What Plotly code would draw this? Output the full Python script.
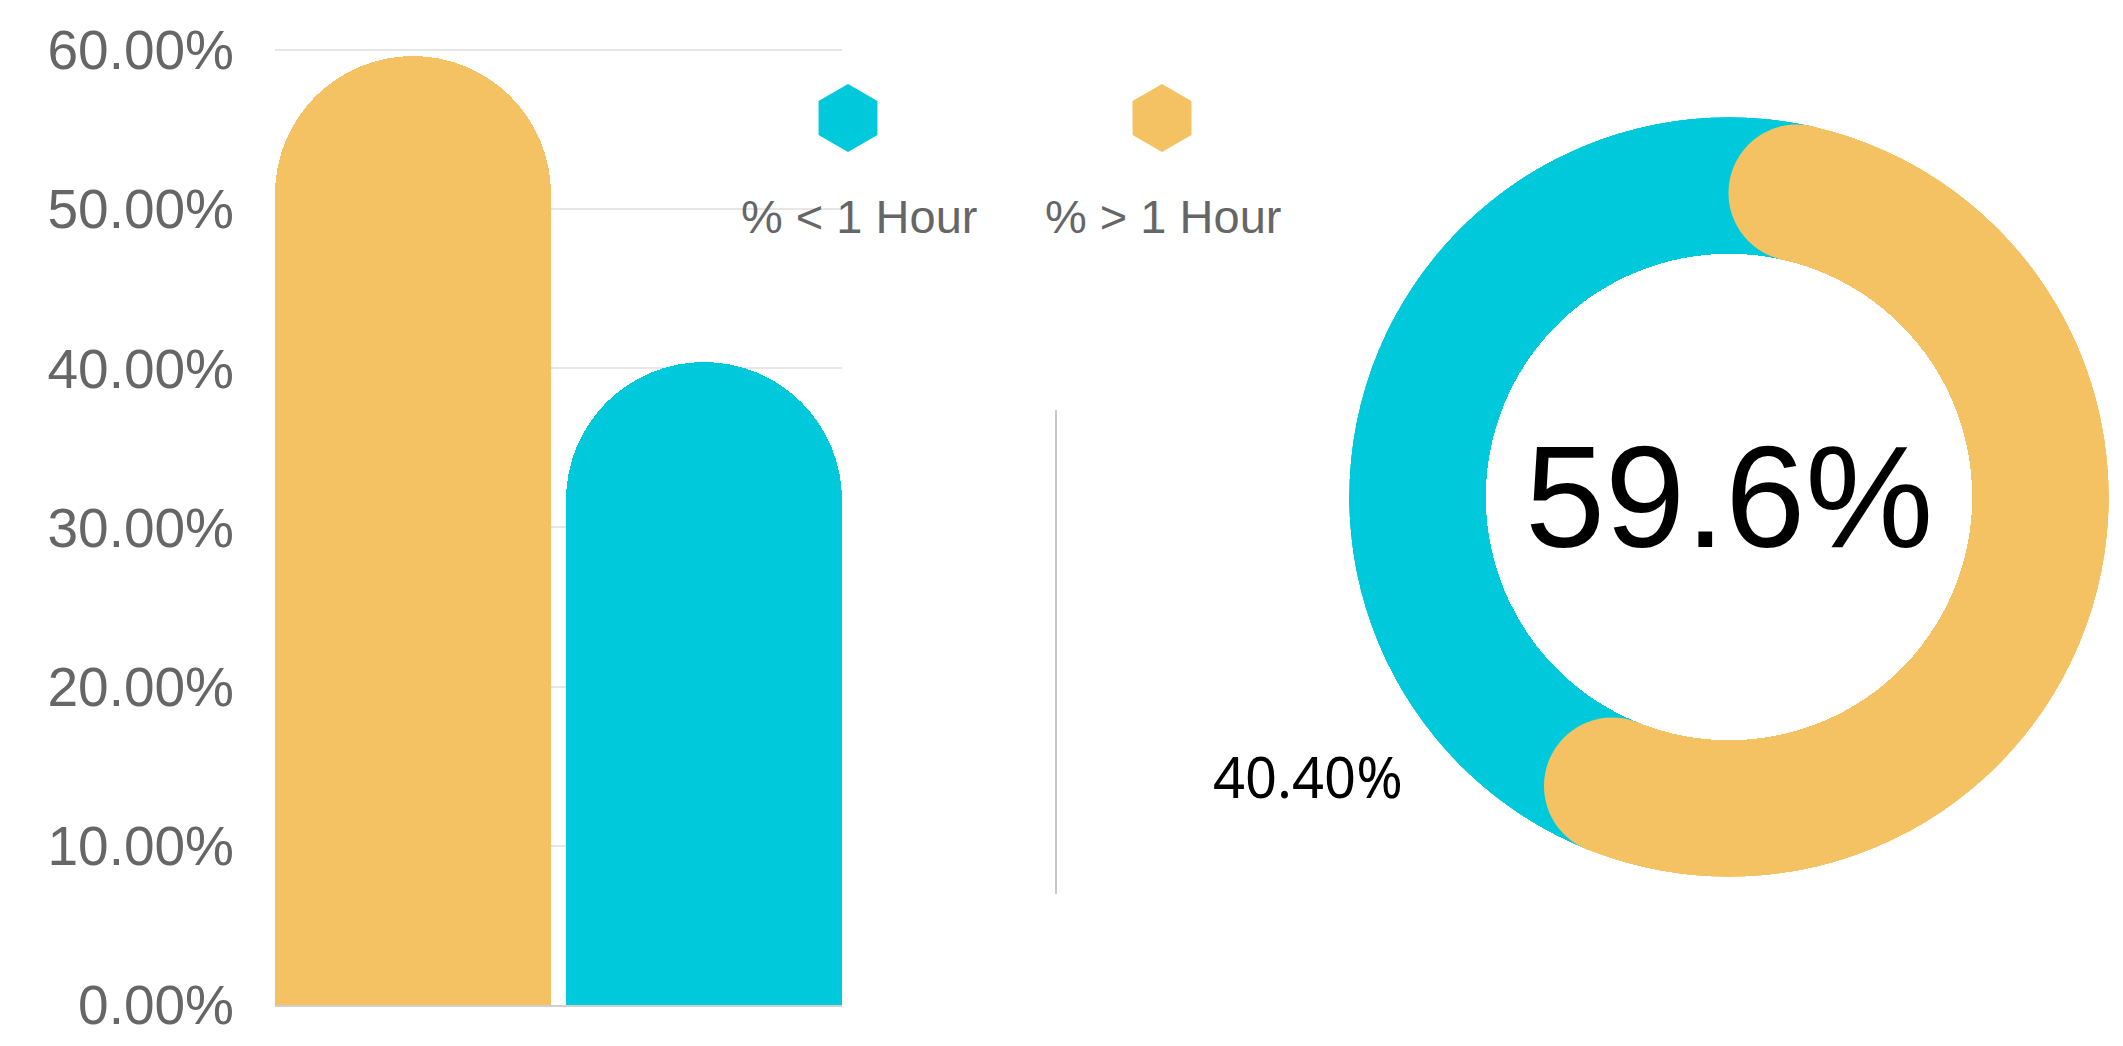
import plotly.graph_objects as go
import math

# ---- data ----
categories = ["% > 1 Hour", "% < 1 Hour"]
values = [0.596, 0.404]
colors = ["#F4C262", "#00C9DB"]
legend_labels = ["% < 1 Hour", "% > 1 Hour"]
legend_colors = ["#00C9DB", "#F4C262"]
y_ticks = [0, 0.1, 0.2, 0.3, 0.4, 0.5, 0.6]
donut_main = 0.596      # yellow share (% > 1 Hour)
donut_rest = 0.404      # cyan share (% < 1 Hour)
center_label = "59.6%"
side_label = "40.40%"

W, H = 2123, 1046
fig = go.Figure()

# ---- bar chart ----
bar_w = 0.9485
fig.add_trace(go.Bar(
    x=categories, y=values, width=bar_w,
    marker=dict(color=colors, line=dict(width=0), cornerradius="50%"),
    xaxis="x", yaxis="y", showlegend=False, hoverinfo="skip",
))

# ---- legend (hexagons + labels) ----
leg_x = [848 / W, 1162 / W]
fig.add_trace(go.Scatter(
    x=leg_x, y=[1 - 118 / H] * 2, mode="markers",
    marker=dict(symbol="hexagon", size=68, color=legend_colors, line=dict(width=0)),
    xaxis="x2", yaxis="y2", showlegend=False, hoverinfo="skip", cliponaxis=False,
))

# ---- donut (polar) ----
inner, outer = 0.64, 1.0
mid = (inner + outer) / 2
half = (outer - inner) / 2
cap_deg = math.degrees(half / mid)
main_end = donut_main * 360
rest_span = donut_rest * 360

fig.add_trace(go.Barpolar(
    r=[outer - inner], base=[inner],
    theta=[main_end + rest_span / 2], width=[rest_span + 2 * cap_deg],
    marker=dict(color="#00C9DB", line=dict(width=0)),
    subplot="polar", showlegend=False, hoverinfo="skip",
))
fig.add_trace(go.Barpolar(
    r=[outer - inner], base=[inner],
    theta=[main_end / 2], width=[main_end - 2 * cap_deg],
    marker=dict(color="#F4C262", line=dict(width=0)),
    subplot="polar", showlegend=False, hoverinfo="skip",
))
ring_px = (outer - inner) * 380
fig.add_trace(go.Scatterpolar(
    r=[mid, mid], theta=[cap_deg, main_end - cap_deg], mode="markers",
    marker=dict(symbol="circle", size=ring_px, color="#F4C262", line=dict(width=0)),
    subplot="polar", showlegend=False, hoverinfo="skip",
))

annotations = [
    dict(x=859 / W, y=1 - 217 / H, xref="paper", yref="paper", text=legend_labels[0],
         showarrow=False, font=dict(family="Liberation Sans, Arial", size=47, color="#666666"),
         xanchor="center", yanchor="middle"),
    dict(x=1163 / W, y=1 - 217 / H, xref="paper", yref="paper", text=legend_labels[1],
         showarrow=False, font=dict(family="Liberation Sans, Arial", size=47, color="#666666"),
         xanchor="center", yanchor="middle"),
    dict(x=1729 / W, y=1 - 497 / H, xref="paper", yref="paper", text=center_label,
         showarrow=False, font=dict(family="Liberation Sans, Arial", size=144, color="#000000"),
         xanchor="center", yanchor="middle"),
    dict(x=1308 / W, y=1 - 776 / H, xref="paper", yref="paper", text=side_label,
         showarrow=False, font=dict(family="Noto Sans", size=56, color="#000000"),
         xanchor="center", yanchor="middle"),
]

shapes = [
    dict(type="line", xref="paper", yref="paper", x0=1056 / W, x1=1056 / W,
         y0=1 - 410 / H, y1=1 - 894 / H, line=dict(color="#c8c8c8", width=2)),
]

fig.update_layout(
    width=W, height=H,
    margin=dict(l=0, r=0, t=0, b=0, autoexpand=False),
    paper_bgcolor="white", plot_bgcolor="rgba(0,0,0,0)",
    xaxis=dict(domain=[275 / W, 842 / W], range=[-bar_w / 2, 1 + bar_w / 2],
               showticklabels=False, showgrid=False, zeroline=False,
               showline=True, linecolor="#d0d0d0", linewidth=2, layer="below traces",
               automargin=False),
    yaxis=dict(domain=[1 - 1005 / H, 1 - 48 / H], range=[0, 0.6012],
               tickvals=y_ticks, tickformat=".2%", showgrid=True,
               gridcolor="#e6e6e6", gridwidth=1.5, zeroline=False, showline=False,
               ticks="", ticklabelstandoff=40, layer="below traces", automargin=False,
               tickfont=dict(family="Liberation Sans, Arial", size=55, color="#666666")),
    xaxis2=dict(domain=[0, 1], range=[0, 1], visible=False, anchor="y2", automargin=False),
    yaxis2=dict(domain=[0, 1], range=[0, 1], visible=False, anchor="x2", automargin=False),
    polar=dict(
        domain=dict(x=[1349 / W, 2109 / W], y=[1 - 877 / H, 1 - 117 / H]),
        bgcolor="rgba(0,0,0,0)", hole=0,
        radialaxis=dict(range=[0, 1], visible=False, showgrid=False),
        angularaxis=dict(rotation=90, direction="clockwise", visible=False, showgrid=False),
    ),
    bargap=0,
    annotations=annotations,
    shapes=shapes,
    showlegend=False,
)

fig.write_html(
    "out.html",
    config={"displayModeBar": False},
    post_script="document.body.style.margin='0';document.body.style.padding='0';",
)
